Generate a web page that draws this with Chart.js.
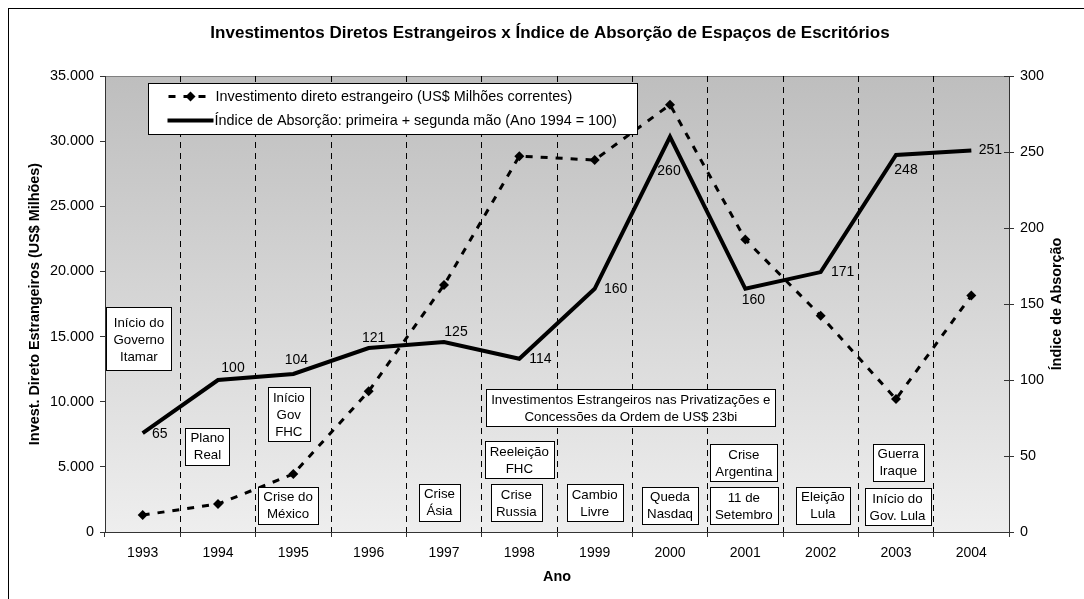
<!DOCTYPE html>
<html>
<head>
<meta charset="utf-8">
<script src="https://cdn.jsdelivr.net/npm/chart.js@4"></script>
<style>
  body { margin: 0; background: #fff; }
  canvas { display: block; }
</style>
</head>
<body>
<canvas id="ideChart" width="1084" height="599"></canvas>
<script>
// Data
const years = ['1993', '1994', '1995', '1996', '1997', '1998', '1999', '2000', '2001', '2002', '2003', '2004'];
const investimentoDireto = [1300, 2150, 4450, 10800, 18950, 28850, 28550, 32800, 22450, 16600, 10200, 18150];
const indiceAbsorcao = [65, 100, 104, 121, 125, 114, 160, 260, 160, 171, 248, 251];
const leftAxisMax = 35000;
const leftAxisStep = 5000;
const rightAxisMax = 300;
const rightAxisStep = 50;

// Where each index label sits relative to its point (pixels)
const labelDx = [17, 15, 3, 5, 12, 21, 21, -1, 8, 22, 10, 19];
const labelDy = [1, -12, -14, -10, -10, 0, 0, 34, 11, 0, 15, 0];

// Event notes: category position (index) and height in left-axis units
const notes = [
    { x: -0.05, y: 14815, lines: ['Início do', 'Governo', 'Itamar'], pad: 7 },
    { x: 0.86, y: 6600, lines: ['Plano', 'Real'] },
    { x: 1.94, y: 9060, lines: ['Início', 'Gov', 'FHC'] },
    { x: 1.93, y: 2070, lines: ['Crise do', 'México'] },
    { x: 3.94, y: 2300, lines: ['Crise', 'Ásia'] },
    { x: 6.48, y: 9560, lines: ['Investimentos Estrangeiros nas Privatizações e', 'Concessões da Ordem de US$ 23bi'] },
    { x: 5.0, y: 5530, lines: ['Reeleição', 'FHC'] },
    { x: 4.96, y: 2230, lines: ['Crise', 'Russia'] },
    { x: 6.0, y: 2230, lines: ['Cambio', 'Livre'] },
    { x: 7.0, y: 2070, lines: ['Queda', 'Nasdaq'] },
    { x: 7.98, y: 5300, lines: ['Crise', 'Argentina'] },
    { x: 7.98, y: 2000, lines: ['11 de', 'Setembro'] },
    { x: 9.03, y: 2070, lines: ['Eleição', 'Lula'] },
    { x: 10.03, y: 5370, lines: ['Guerra', 'Iraque'] },
    { x: 10.02, y: 1960, lines: ['Início do', 'Gov. Lula'] }
];

const FONT = '"Liberation Sans", Arial, sans-serif';

function formatThousands(v) {
    return String(v).replace(/\B(?=(\d{3})+(?!\d))/g, '.');
}

// Custom drawing: background, plot gradient, notes, legend, titles, labels
const decorations = {
    id: 'decorations',
    beforeDraw(chart) {
        const { ctx, chartArea: a } = chart;
        ctx.save();
        ctx.fillStyle = '#fff';
        ctx.fillRect(0, 0, chart.width, chart.height);
        ctx.strokeStyle = '#000';
        ctx.lineWidth = 1;
        ctx.strokeRect(8.5, 8.5, chart.width + 20, chart.height + 20);
        const grad = ctx.createLinearGradient(0, a.top, 0, a.bottom);
        grad.addColorStop(0, '#bebebe');
        grad.addColorStop(1, '#eeeeee');
        ctx.fillStyle = grad;
        ctx.fillRect(a.left, a.top, a.right - a.left, a.bottom - a.top);
        ctx.strokeStyle = '#808080';
        ctx.beginPath();
        ctx.moveTo(a.left, a.top + 0.5);
        ctx.lineTo(a.right, a.top + 0.5);
        ctx.stroke();
        ctx.restore();
    },
    afterDatasetsDraw(chart) {
        const { ctx } = chart;
        const xs = chart.scales.x;
        const ys = chart.scales.y;
        ctx.save();
        ctx.font = '13.3px ' + FONT;
        ctx.textAlign = 'center';
        ctx.textBaseline = 'middle';
        const lineH = 17;
        notes.forEach(n => {
            const pad = n.pad || 5;
            const tw = Math.max(...n.lines.map(l => ctx.measureText(l).width));
            const w = Math.round(tw + pad * 2);
            const h = Math.round(n.lines.length * lineH + 3 + (n.pad ? pad * 1.3 : 0));
            const cx = xs.getPixelForValue(n.x);
            const cy = ys.getPixelForValue(n.y);
            const x0 = Math.round(cx - w / 2) + 0.5;
            const y0 = Math.round(cy - h / 2) + 0.5;
            ctx.fillStyle = '#fff';
            ctx.fillRect(x0, y0, w, h);
            ctx.strokeStyle = '#000';
            ctx.lineWidth = 1;
            ctx.strokeRect(x0, y0, w, h);
            ctx.fillStyle = '#000';
            const startY = cy - (n.lines.length - 1) * lineH / 2;
            n.lines.forEach((l, i) => ctx.fillText(l, cx, startY + i * lineH + 1));
        });
        ctx.restore();
    },
    afterDraw(chart) {
        const { ctx, chartArea: a } = chart;
        const y1 = chart.scales.y1;
        ctx.save();

        // inward half of the right axis cross ticks
        ctx.strokeStyle = '#333';
        ctx.lineWidth = 1;
        y1.ticks.forEach(t => {
            const py = Math.round(y1.getPixelForValue(t.value)) + 0.5;
            ctx.beginPath();
            ctx.moveTo(a.right - 5, py);
            ctx.lineTo(a.right, py);
            ctx.stroke();
        });

        // index labels
        const meta = chart.getDatasetMeta(1);
        ctx.fillStyle = '#000';
        ctx.font = '14px ' + FONT;
        ctx.textAlign = 'center';
        ctx.textBaseline = 'middle';
        meta.data.forEach((pt, i) => {
            ctx.fillText(String(indiceAbsorcao[i]), pt.x + labelDx[i], pt.y + labelDy[i]);
        });

        // title
        ctx.font = 'bold 17px ' + FONT;
        ctx.fillText('Investimentos Diretos Estrangeiros x Índice de Absorção de Espaços de Escritórios', 550, 33);

        // axis titles
        ctx.font = 'bold 14.4px ' + FONT;
        ctx.fillText('Ano', (a.left + a.right) / 2, 577);
        const midY = (a.top + a.bottom) / 2;
        ctx.save();
        ctx.translate(35, midY);
        ctx.rotate(-Math.PI / 2);
        ctx.fillText('Invest. Direto Estrangeiros (US$ Milhões)', 0, 0);
        ctx.restore();
        ctx.save();
        ctx.translate(1057, midY);
        ctx.rotate(-Math.PI / 2);
        ctx.fillText('Índice de Absorção', 0, 0);
        ctx.restore();

        // legend box
        const ds = chart.data.datasets;
        ctx.font = '14.4px ' + FONT;
        const textW = Math.max(...ds.map(d => ctx.measureText(d.label).width));
        const lx = a.left + 43.5;
        const ly = a.top + 7.5;
        const lw = Math.round(67 + textW + 20);
        const lh = 51;
        ctx.fillStyle = '#fff';
        ctx.fillRect(lx, ly, lw, lh);
        ctx.strokeStyle = '#000';
        ctx.strokeRect(lx, ly, lw, lh);
        const rowY = [ly + 13, ly + 37];
        // row 1: dashed with diamond
        ctx.strokeStyle = '#000';
        ctx.lineWidth = 3;
        ctx.setLineDash([7, 8]);
        ctx.beginPath();
        ctx.moveTo(lx + 20, rowY[0]);
        ctx.lineTo(lx + 64, rowY[0]);
        ctx.stroke();
        ctx.setLineDash([]);
        ctx.fillStyle = '#000';
        ctx.beginPath();
        const dx = lx + 42, dy = rowY[0];
        ctx.moveTo(dx, dy - 5); ctx.lineTo(dx + 5, dy); ctx.lineTo(dx, dy + 5); ctx.lineTo(dx - 5, dy);
        ctx.closePath();
        ctx.fill();
        // row 2: solid
        ctx.lineWidth = 4;
        ctx.beginPath();
        ctx.moveTo(lx + 19, rowY[1]);
        ctx.lineTo(lx + 65, rowY[1]);
        ctx.stroke();
        ctx.textAlign = 'left';
        ctx.fillText(ds[0].label, lx + 67, rowY[0] + 1);
        ctx.fillText(ds[1].label, lx + 66, rowY[1] + 1);
        ctx.restore();
    }
};

const ctx = document.getElementById('ideChart').getContext('2d');
const ideChart = new Chart(ctx, {
    type: 'line',
    data: {
        labels: years,
        datasets: [{
            label: 'Investimento direto estrangeiro (US$ Milhões correntes)',
            data: investimentoDireto,
            yAxisID: 'y',
            borderColor: '#000',
            backgroundColor: '#000',
            borderWidth: 3,
            borderDash: [7, 8],
            pointStyle: 'rectRot',
            pointRadius: 5,
            pointBorderWidth: 0,
            tension: 0
        }, {
            label: 'Índice de Absorção: primeira + segunda mão (Ano 1994 = 100)',
            data: indiceAbsorcao,
            yAxisID: 'y1',
            borderColor: '#000',
            borderWidth: 4,
            pointRadius: 0,
            tension: 0
        }]
    },
    options: {
        responsive: false,
        animation: false,
        layout: { padding: { top: 76, left: 0, right: 0, bottom: 0 } },
        plugins: {
            legend: { display: false },
            title: { display: false },
            tooltip: { enabled: false }
        },
        scales: {
            x: {
                type: 'category',
                offset: true,
                afterFit(scale) { scale.height = 67; },
                grid: {
                    offset: true,
                    drawOnChartArea: true,
                    color: c => (c.index === 0 || c.index === years.length) ? 'rgba(0,0,0,0)' : '#000',
                    tickColor: '#333',
                    tickLength: 5,
                    lineWidth: 1
                },
                border: { display: true, color: '#333', width: 1, dash: [6, 5] },
                ticks: {
                    color: '#000',
                    font: { family: FONT, size: 14 },
                    padding: 8,
                    maxRotation: 0
                }
            },
            y: {
                position: 'left',
                min: 0,
                max: leftAxisMax,
                afterFit(scale) { scale.width = 105; },
                grid: { drawOnChartArea: false, tickColor: '#333', tickLength: 5 },
                border: { color: '#333', width: 1 },
                ticks: {
                    stepSize: leftAxisStep,
                    color: '#000',
                    padding: 6,
                    font: { family: FONT, size: 14.4 },
                    callback: v => formatThousands(v)
                }
            },
            y1: {
                position: 'right',
                min: 0,
                max: rightAxisMax,
                afterFit(scale) { scale.width = 75; },
                grid: { drawOnChartArea: false, tickColor: '#333', tickLength: 5 },
                border: { color: '#333', width: 1 },
                ticks: {
                    stepSize: rightAxisStep,
                    color: '#000',
                    padding: 6,
                    font: { family: FONT, size: 14.4 }
                }
            }
        }
    },
    plugins: [decorations]
});
</script>
</body>
</html>
